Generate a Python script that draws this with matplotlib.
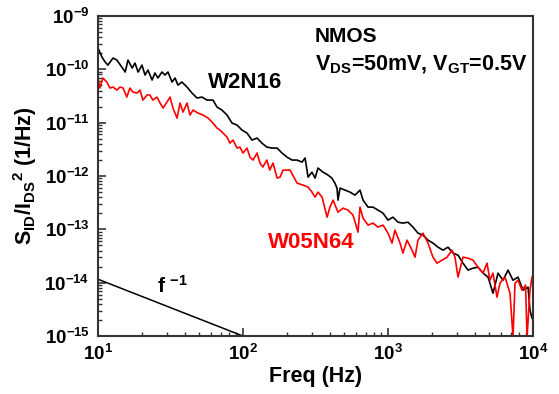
import matplotlib
matplotlib.use("Agg")
import matplotlib.pyplot as plt
from matplotlib.ticker import LogLocator, FuncFormatter, NullFormatter
import numpy as np

plt.rcParams['font.family'] = ['Liberation Sans', 'DejaVu Sans']
plt.rcParams['font.weight'] = 'bold'
plt.rcParams['mathtext.fontset'] = 'custom'
plt.rcParams['mathtext.rm'] = 'Liberation Sans:bold'
plt.rcParams['mathtext.bf'] = 'Liberation Sans:bold'
plt.rcParams['mathtext.it'] = 'Liberation Sans:bold'
plt.rcParams['mathtext.default'] = 'bf'

# ---- data ----
w2n16_f = [10, 10.65, 11.2, 11.7, 12.7, 13.5, 14.6, 15.4, 16.1, 17.2, 18.0, 18.9, 20.1, 21.1,
           22.1, 23.6, 24.7, 25.9, 27.6, 29.0, 30.4, 32.4, 34.0, 35.6, 37.9, 41.1, 44.5, 48.2,
           52.1, 56.5, 62.1, 66.2, 71.6, 77.6, 84.0, 91.0, 98.4, 106.6, 115.3, 125, 135, 146,
           158, 172, 186, 201, 218, 236, 255, 268, 281, 299, 314, 329, 356, 367, 386, 410, 418,
           430, 445, 452, 467, 505, 547, 592, 641, 673, 728, 788, 853, 924, 1000, 1082, 1172,
           1268, 1374, 1487, 1610, 1742, 1888, 2042, 2213, 2394, 2594, 2807, 3040, 3290, 3565,
           3857, 4177, 4523, 4898, 5297, 5738, 6207, 6726, 7280, 7880, 8530, 9245, 9530, 9840]
w2n16_s = [2.51e-10, 1.70e-10, 1.37e-10, 1.20e-10, 1.63e-10, 1.49e-10, 1.10e-10, 8.90e-11,
           1.49e-10, 1.06e-10, 1.31e-10, 8.90e-11, 1.20e-10, 7.82e-11, 9.70e-11, 6.30e-11,
           8.53e-11, 6.87e-11, 8.90e-11, 7.82e-11, 8.90e-11, 5.78e-11, 6.87e-11, 5.07e-11,
           5.78e-11, 4.66e-11, 3.59e-11, 2.90e-11, 3.02e-11, 2.65e-11, 2.65e-11, 1.96e-11,
           1.72e-11, 1.39e-11, 9.82e-12, 9.01e-12, 7.26e-12, 6.38e-12, 4.72e-12, 5.14e-12,
           4.14e-12, 3.48e-12, 3.34e-12, 3.34e-12, 2.69e-12, 2.26e-12, 1.99e-12, 1.99e-12,
           1.82e-12, 2.17e-12, 9.53e-13, 1.18e-12, 9.14e-13, 1.41e-12, 1.18e-12, 1.13e-12,
           1.04e-12, 9.14e-13, 8.38e-13, 7.36e-13, 5.93e-13, 3.53e-13, 5.93e-13, 5.44e-13,
           4.99e-13, 4.38e-13, 5.44e-13, 3.53e-13, 2.61e-13, 2.61e-13, 2.29e-13, 2.01e-13,
           1.49e-13, 1.69e-13, 1.36e-13, 1.31e-13, 1.36e-13, 1.10e-13, 8.49e-14, 7.78e-14,
           6.27e-14, 5.51e-14, 4.63e-14, 4.07e-14, 4.63e-14, 3.58e-14, 3.28e-14, 2.32e-14,
           1.72e-14, 1.87e-14, 1.95e-14, 1.51e-14, 1.27e-14, 6.35e-15, 1.51e-14, 1.11e-14,
           1.72e-14, 1.11e-14, 1.27e-14, 7.23e-15, 8.24e-15, 3.05e-15, 2.16e-15]

w05n64_f = [10, 10.3, 10.8, 11.5, 12.1, 12.7, 13.5, 14.2, 14.9, 15.8, 16.6, 17.4, 18.6, 19.5,
            20.4, 21.8, 22.8, 23.9, 25.5, 26.8, 28.1, 29.9, 31.4, 32.9, 35.1, 36.8, 38.6, 41.1,
            43.1, 45.2, 49.0, 53.0, 57.4, 62.1, 66.2, 69.4, 72.8, 77.6, 81.3, 85.3, 91.0, 95.3,
            100, 106.6, 111.7, 117.2, 125, 131, 137, 146, 153, 161, 172, 180, 189, 211, 236,
            259, 281, 299, 314, 329, 351, 380, 398, 418, 452, 490, 530, 574, 621, 641, 673, 728,
            788, 853, 924, 1000, 1066, 1117, 1211, 1268, 1352, 1465, 1535, 1610, 1742, 1888,
            2042, 2178, 2356, 2553, 2763, 2897, 3040, 3290, 3565, 3857, 4177, 4523, 4818, 5047,
            5297, 5645, 5919, 6409, 6940, 7280, 7516, 7880, 8400, 8880, 9100, 9530, 9840]
w05n64_s = [6.87e-11, 4.46e-11, 6.87e-11, 5.78e-11, 4.46e-11, 4.66e-11, 4.09e-11, 4.66e-11,
            4.46e-11, 3.02e-11, 4.46e-11, 3.75e-11, 3.59e-11, 4.09e-11, 2.65e-11, 3.30e-11,
            3.30e-11, 2.65e-11, 3.02e-11, 2.33e-11, 1.88e-11, 2.43e-11, 3.02e-11, 1.88e-11,
            1.22e-11, 2.33e-11, 1.58e-11, 2.33e-11, 1.39e-11, 1.72e-11, 1.51e-11, 1.39e-11,
            1.22e-11, 9.82e-12, 7.92e-12, 7.26e-12, 6.38e-12, 5.37e-12, 4.14e-12, 4.72e-12,
            3.34e-12, 3.48e-12, 2.69e-12, 3.34e-12, 2.26e-12, 1.99e-12, 2.69e-12, 1.75e-12,
            1.47e-12, 1.99e-12, 1.29e-12, 1.75e-12, 9.14e-13, 9.53e-13, 1.29e-12, 1.29e-12,
            7.36e-13, 6.75e-13, 6.19e-13, 4.99e-13, 4.02e-13, 4.99e-13, 4.02e-13, 1.69e-13,
            2.61e-13, 3.53e-13, 2.10e-13, 2.50e-13, 2.29e-13, 1.85e-13, 8.86e-14, 2.61e-13,
            1.62e-13, 1.20e-13, 1.31e-13, 1.10e-13, 1.20e-13, 8.49e-14, 5.51e-14, 9.66e-14,
            5.51e-14, 3.58e-14, 6.27e-14, 4.07e-14, 3.01e-14, 6.27e-14, 8.49e-14, 5.51e-14,
            3.01e-14, 2.32e-14, 2.64e-14, 3.01e-14, 4.07e-14, 3.01e-14, 1.27e-14, 3.01e-14,
            2.88e-14, 2.64e-14, 1.95e-14, 1.51e-14, 2.32e-14, 1.11e-14, 1.51e-14, 5.35e-15,
            9.79e-15, 1.27e-14, 6.35e-15, 9.5e-16, 9.79e-15, 1.11e-14, 7.23e-15, 8.97e-15,
            9.5e-16, 7.23e-15, 1.27e-14]

slope_f = [10, 98]
slope_s = [1.16e-14, 1.02e-15]

xlim = (10, 1e4)
ylim = (1e-15, 1e-9)
x_major = [10, 100, 1000, 10000]
y_major = [1e-15, 1e-14, 1e-13, 1e-12, 1e-11, 1e-10, 1e-9]

fig = plt.figure(figsize=(5.59, 3.94), dpi=100)
ax = fig.add_axes([0.1753, 0.1472, 0.7782, 0.8122])

ax.plot(w2n16_f, w2n16_s, color='black', lw=1.2)
ax.plot(w05n64_f, w05n64_s, color='#ff0000', lw=1.2)
ax.plot(slope_f, slope_s, color='black', lw=1.1)

ax.set_xscale('log')
ax.set_yscale('log')
ax.set_xlim(*xlim)
ax.set_ylim(*ylim)

def fmt(v, pos):
    e = int(round(np.log10(v)))
    return r'$10^{%d}$' % e

ax.set_xticks(x_major)
ax.set_yticks(y_major)
ax.xaxis.set_minor_locator(LogLocator(base=10, subs=np.arange(2, 10), numticks=20))
ax.yaxis.set_minor_locator(LogLocator(base=10, subs=np.arange(2, 10), numticks=20))
ax.xaxis.set_major_formatter(FuncFormatter(fmt))
ax.yaxis.set_major_formatter(FuncFormatter(fmt))
ax.xaxis.set_minor_formatter(NullFormatter())
ax.yaxis.set_minor_formatter(NullFormatter())
ax.set_xlim(*xlim)
ax.set_ylim(*ylim)

ax.tick_params(which='both', direction='in', top=False, right=False, color='#333333')
ax.tick_params(which='major', length=6, width=1.2, labelsize=13.5, pad=6)
ax.tick_params(which='minor', length=3, width=1.0, labelbottom=False, labelleft=False)
for sp in ax.spines.values():
    sp.set_linewidth(1.5)
    sp.set_color('#333333')

ax.set_xlabel('Freq (Hz)', fontsize=15.5, fontweight='bold', labelpad=1)
ax.set_ylabel(r'$S_{ID}/I_{DS}{}^{2}$ (1/Hz)', fontsize=15.5, fontweight='bold', labelpad=4)

ax.text(0.253, 0.775, 'W2N16', transform=ax.transAxes, fontsize=16, fontweight='bold',
        color='black', ha='left', va='baseline')
ax.text(0.391, 0.275, 'W05N64', transform=ax.transAxes, fontsize=16, fontweight='bold',
        color='#ff0000', ha='left', va='baseline')
ax.text(0.499, 0.919, 'NMOS', transform=ax.transAxes, fontsize=15, fontweight='bold',
        ha='left', va='baseline')
ax.text(0.499, 0.831, r'$V_{DS}$=50mV, $V_{GT}$=0.5V', transform=ax.transAxes, fontsize=15.5,
        fontweight='bold', ha='left', va='baseline')
ax.text(0.136, 0.134, r'f $^{-1}$', transform=ax.transAxes, fontsize=15, fontweight='bold',
        ha='left', va='baseline')

fig.savefig('out.png', dpi=100)
